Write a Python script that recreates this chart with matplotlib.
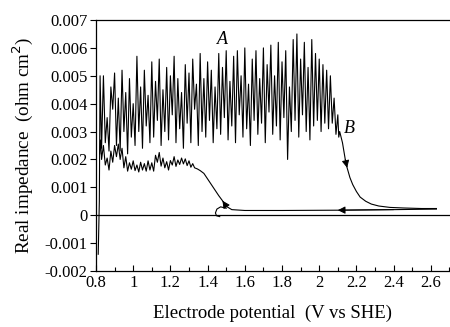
import matplotlib
matplotlib.use("Agg")
import matplotlib.pyplot as plt
from matplotlib.ticker import FixedLocator, FuncFormatter, MultipleLocator

# ---- data (potential in V vs SHE, real impedance in 1e-3 ohm cm^2) ----
# forward scan (curve A, then drop B)
fwd_x = [0.812, 0.818, 0.822, 0.830, 0.840, 0.850, 0.860, 0.870, 0.880, 0.890,
         0.900, 0.910, 0.920, 0.930, 0.940, 0.950, 0.960, 0.970, 0.980, 0.990,
         1.000, 1.010, 1.020, 1.030, 1.040, 1.050, 1.060, 1.070, 1.080, 1.090,
         1.100, 1.110, 1.120, 1.130, 1.140, 1.150, 1.160, 1.170, 1.180, 1.190,
         1.200, 1.210, 1.220, 1.230, 1.240, 1.250, 1.260, 1.270, 1.280, 1.290,
         1.300, 1.310, 1.320, 1.330, 1.340, 1.350, 1.360, 1.370, 1.380, 1.390,
         1.400, 1.410, 1.420, 1.430, 1.440, 1.450, 1.460, 1.470, 1.480, 1.490,
         1.500, 1.510, 1.520, 1.530, 1.540, 1.550, 1.560, 1.570, 1.580, 1.590,
         1.600, 1.610, 1.620, 1.630, 1.640, 1.650, 1.660, 1.670, 1.680, 1.690,
         1.700, 1.710, 1.720, 1.730, 1.740, 1.750, 1.760, 1.770, 1.780, 1.790,
         1.800, 1.810, 1.820, 1.830, 1.840, 1.850, 1.860, 1.870, 1.880, 1.890,
         1.900, 1.910, 1.920, 1.930, 1.940, 1.950, 1.960, 1.970, 1.980, 1.990,
         2.000, 2.010, 2.020, 2.030, 2.040, 2.050, 2.060, 2.070, 2.080, 2.090,
         2.100, 2.105, 2.110, 2.125, 2.140, 2.150, 2.165, 2.180, 2.200, 2.220,
         2.250, 2.280, 2.320, 2.380, 2.450, 2.550, 2.630]
fwd_y = [-1.4, 0.5, 5.0, 2.4, 5.0, 2.6, 3.5, 2.3, 4.6, 3.8,
         5.1, 2.5, 4.2, 2.3, 5.2, 3.0, 4.4, 2.2, 4.9, 2.8,
         4.0, 2.5, 5.7, 3.0, 4.6, 2.4, 5.2, 3.2, 4.3, 2.6,
         5.5, 2.8, 4.8, 3.4, 5.6, 2.5, 4.5, 3.0, 5.3, 2.7,
         5.0, 3.6, 5.7, 2.6, 4.9, 3.1, 4.4, 2.4, 5.4, 3.3,
         5.1, 2.6, 5.6, 3.8, 4.7, 2.5, 5.8, 3.0, 4.9, 2.8,
         5.5, 3.4, 5.2, 2.6, 4.6, 3.1, 5.8, 2.9, 5.3, 3.5,
         5.9, 2.7, 4.8, 3.2, 5.7, 2.6, 5.9, 3.6, 5.0, 2.8,
         6.0, 3.1, 4.7, 2.5, 5.6, 3.4, 5.9, 2.9, 4.9, 3.3,
         6.0, 2.6, 5.4, 3.7, 6.1, 2.9, 5.0, 3.2, 6.2, 2.7,
         5.5, 3.5, 5.9, 2.0, 4.6, 3.0, 6.3, 3.4, 6.5, 2.8,
         5.6, 3.6, 6.2, 3.0, 5.3, 2.7, 6.3, 3.2, 5.8, 3.4,
         5.6, 3.0, 5.4, 3.3, 5.2, 3.1, 5.0, 3.3, 4.2, 2.9,
         3.6, 2.8, 3.0, 2.6, 2.0, 1.7, 1.35, 1.1, 0.85, 0.65,
         0.50, 0.40, 0.33, 0.28, 0.26, 0.24, 0.24]

# reverse scan (back along the baseline, rise, then noisy plateau)
rev_x = [2.630, 2.400, 2.100, 1.800, 1.600, 1.530, 1.500, 1.480, 1.460, 1.440,
         1.420, 1.400, 1.380, 1.360, 1.345, 1.330, 1.320, 1.310, 1.300, 1.290,
         1.280, 1.270, 1.260, 1.250, 1.240, 1.230, 1.220, 1.210, 1.200, 1.190,
         1.180, 1.170, 1.160, 1.150, 1.140, 1.130, 1.120, 1.110, 1.100, 1.090,
         1.080, 1.070, 1.060, 1.050, 1.040, 1.030, 1.020, 1.010, 1.000, 0.990,
         0.980, 0.970, 0.960, 0.950, 0.940, 0.930, 0.920, 0.910, 0.900, 0.890,
         0.880, 0.870, 0.860, 0.850, 0.840, 0.830, 0.825, 0.820]
rev_y = [0.22, 0.20, 0.18, 0.17, 0.17, 0.20, 0.32, 0.52, 0.70, 0.90,
         1.10, 1.30, 1.50, 1.60, 1.66, 1.70, 1.85, 1.72, 1.95, 1.78,
         2.02, 1.84, 2.05, 1.82, 1.98, 1.75, 2.10, 1.80, 1.96, 1.62,
         1.92, 1.70, 2.05, 1.76, 2.25, 1.90, 2.15, 1.58, 1.88, 1.62,
         1.95, 1.58, 1.85, 1.62, 1.90, 1.55, 1.80, 1.60, 1.95, 1.65,
         1.88, 1.58, 2.10, 1.70, 2.40, 2.00, 2.55, 2.10, 2.50, 1.90,
         2.30, 1.62, 2.05, 1.80, 2.50, 2.00, 2.70, 2.20]

# small loop near the baseline
loop_x = [1.500, 1.470, 1.450, 1.442, 1.448, 1.465]
loop_y = [0.25, 0.30, 0.22, 0.08, -0.02, -0.05]

x_ticks = [0.8, 1.0, 1.2, 1.4, 1.6, 1.8, 2.0, 2.2, 2.4, 2.6]
y_ticks = [-0.002, -0.001, 0.0, 0.001, 0.002, 0.003, 0.004, 0.005, 0.006, 0.007]

SCALE = 1e-3
serif = ["Liberation Serif", "DejaVu Serif"]
plt.rcParams["font.family"] = serif

fig = plt.figure(figsize=(4.5, 3.27), dpi=100)
ax = fig.add_axes([0.2133, 0.1713, 0.7867, 0.7675])

lw = 0.8
ax.axhline(0, color="black", lw=0.9, zorder=1)
ax.plot(fwd_x, [v * SCALE for v in fwd_y], color="black", lw=lw)
ax.plot(rev_x, [v * SCALE for v in rev_y], color="black", lw=lw)
ax.plot(loop_x, [v * SCALE for v in loop_y], color="black", lw=lw)

# direction arrows (placed on the curves)
def arrow(i_tail, i_tip, xs, ys):
    ax.annotate("", xy=(xs[i_tip], ys[i_tip] * SCALE),
                xytext=(xs[i_tail], ys[i_tail] * SCALE),
                arrowprops=dict(arrowstyle="-|>", color="black", lw=0.7,
                                mutation_scale=11, shrinkA=0, shrinkB=0))

arrow(fwd_x.index(2.140), fwd_x.index(2.150), fwd_x, fwd_y)
arrow(rev_x.index(2.400), rev_x.index(2.100), rev_x, rev_y)
arrow(rev_x.index(1.500), rev_x.index(1.480), rev_x, rev_y)

ax.text(1.48, 0.0063, "A", fontsize=13, style="italic", ha="center", va="center")
ax.text(2.16, 0.0031, "B", fontsize=13, style="italic", ha="center", va="center")

ax.set_xlim(0.8, 2.703)
ax.set_ylim(-0.002, 0.007)

ax.xaxis.set_major_locator(FixedLocator(x_ticks))
ax.xaxis.set_minor_locator(MultipleLocator(0.1))
ax.yaxis.set_major_locator(FixedLocator(y_ticks))
ax.xaxis.set_major_formatter(FuncFormatter(lambda v, p: "%g" % round(v, 3)))
ax.yaxis.set_major_formatter(FuncFormatter(lambda v, p: "%g" % round(v, 4)))

ax.tick_params(axis="x", which="major", direction="in", length=4, width=0.8,
               labelsize=12, pad=3)
ax.tick_params(axis="x", which="minor", direction="in", length=3, width=0.8)
ax.tick_params(axis="y", which="major", direction="out", length=4, width=0.8,
               labelsize=12, pad=2)

for s in ("left", "bottom", "top"):
    ax.spines[s].set_linewidth(0.9)
ax.spines["right"].set_visible(False)

ax.set_xlabel("Electrode potential  (V vs SHE)", fontsize=13.5, labelpad=10)
ax.set_ylabel("Real impedance  (ohm cm$^2$)", fontsize=13.8, labelpad=7)

fig.savefig("out.png", dpi=100)
